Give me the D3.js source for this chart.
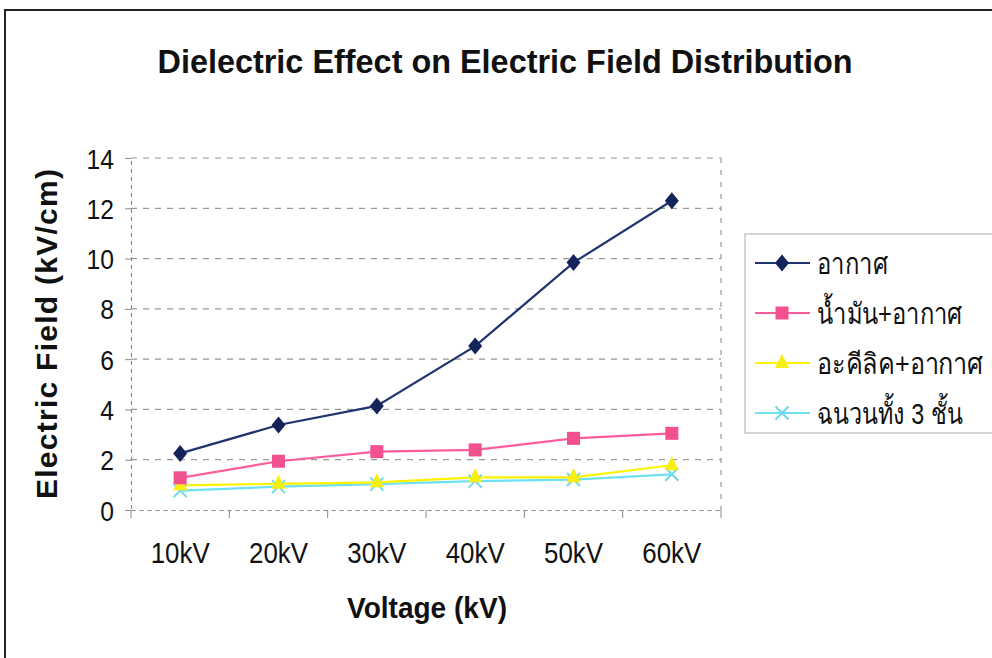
<!DOCTYPE html>
<html><head><meta charset="utf-8">
<script src="https://cdn.jsdelivr.net/npm/d3@7/dist/d3.min.js"></script>
<style>body{margin:0;background:#fff}svg{display:block}text{font-family:Arial,"Liberation Sans",sans-serif;fill:#111}</style>
</head><body><svg id="c" width="992" height="658"></svg>
<script>
const categories = ["10kV","20kV","30kV","40kV","50kV","60kV"];
const seriesNames = ["อากาศ","น้ำมัน+อากาศ","อะคีลิค+อากาศ","ฉนวนทั้ง 3 ชั้น"];
const airValues     = [2.25, 3.38, 4.14, 6.52, 9.84, 12.3];
const oilAirValues  = [1.28, 1.94, 2.32, 2.39, 2.85, 3.05];
const acrylicAirValues = [0.98, 1.04, 1.1, 1.3, 1.3, 1.78];
const threeLayerValues = [0.77, 0.93, 1.03, 1.15, 1.21, 1.42];
const yTicks = [0,2,4,6,8,10,12,14];

const svg = d3.select("#c");
const W = 992, H = 658;
const L = 131, R = 721, T = 158, B = 510;
const x = d3.scaleBand().domain(categories).range([L, R]);
const y = d3.scaleLinear().domain([0, 14]).range([B, T]);

function condense(sel, f) {
  sel.each(function(){ const w = this.getComputedTextLength(); d3.select(this).attr("textLength", w*f).attr("lengthAdjust","spacingAndGlyphs"); });
}

// outer frame
svg.append("path").attr("d", `M5,${H+5} L5,10 L${W+5},10`).attr("fill","none").attr("stroke","#222").attr("stroke-width",2);

// title
svg.append("text").attr("x", 505).attr("y", 73).attr("text-anchor","middle")
  .attr("font-size", 34).attr("font-weight","bold").attr("textLength",695).attr("lengthAdjust","spacingAndGlyphs")
  .text("Dielectric Effect on Electric Field Distribution");

// gridlines
const g = svg.append("g");
g.selectAll("line.grid").data(yTicks.filter(d=>d>0)).join("line")
  .attr("x1", L).attr("x2", R).attr("y1", d=>y(d)).attr("y2", d=>y(d))
  .attr("stroke","#9a9a8c").attr("stroke-width",1.2).attr("stroke-dasharray","6,6");
g.append("line").attr("x1",R).attr("x2",R).attr("y1",T).attr("y2",B)
  .attr("stroke","#9a9a8c").attr("stroke-width",1.2).attr("stroke-dasharray","5,7");

// y axis
const yAxis = d3.axisLeft(y).tickValues(yTicks).tickSize(6).tickPadding(11).tickFormat(d3.format("d"));
const ya = svg.append("g").attr("transform",`translate(${L},0)`).call(yAxis);
ya.select(".domain").attr("stroke","#8a8a80").attr("stroke-width",1.2).attr("stroke-dasharray","4,4");
ya.selectAll(".tick line").attr("stroke","#8a8a80");
ya.selectAll("text").attr("font-size",28).attr("fill","#111").attr("dy","0.36em").call(condense, 0.88);

// x axis
const xAxis = d3.axisBottom(x).tickSize(0).tickPadding(40);
const xa = svg.append("g").attr("transform",`translate(0,${B})`).call(xAxis);
xa.select(".domain").attr("stroke","#8a8a80").attr("stroke-width",1.2).attr("stroke-dasharray","4,4");
xa.selectAll(".tick text").attr("font-size",29).attr("fill","#111").attr("textLength",59).attr("lengthAdjust","spacingAndGlyphs").attr("dy","0.45em");
const bounds = categories.map(c=>x(c)).concat([R]);
xa.selectAll("line.bt").data(bounds).join("line").attr("class","bt")
  .attr("x1",d=>d).attr("x2",d=>d).attr("y1",0).attr("y2",8).attr("stroke","#8a8a80");

// axis titles
svg.append("text").attr("transform",`translate(57,${(T+B)/2}) rotate(-90)`).attr("text-anchor","middle")
  .attr("font-size",30).attr("font-weight","bold").attr("textLength",330).attr("lengthAdjust","spacing")
  .text("Electric Field (kV/cm)");
svg.append("text").attr("x",427).attr("y",618).attr("text-anchor","middle")
  .attr("font-size",30).attr("font-weight","bold").attr("textLength",160).attr("lengthAdjust","spacingAndGlyphs")
  .text("Voltage (kV)");

const series = [
  {name: seriesNames[0], values: airValues, line:"#22346e", fill:"#14245a", sym:"diamond"},
  {name: seriesNames[1], values: oilAirValues, line:"#ff5c9d", fill:"#f2508e", sym:"square"},
  {name: seriesNames[2], values: acrylicAirValues, line:"#fff200", fill:"#f8ee10", sym:"triangle"},
  {name: seriesNames[3], values: threeLayerValues, line:"#6fe0f2", fill:"#6fd8ea", sym:"x"}
];
const legendTextWidths = [70, 145, 166, 146];
const cx = c => x(c) + x.bandwidth()/2;
const line = d3.line().x((d,i)=>cx(categories[i])).y(d=>y(d));

function drawMarker(sel, s, px, py) {
  if (s.sym === "diamond") {
    sel.append("path").attr("d", `M${px},${py-8.5} L${px+7},${py} L${px},${py+8.5} L${px-7},${py} Z`).attr("fill", s.fill);
  } else if (s.sym === "square") {
    sel.append("rect").attr("x",px-6.5).attr("y",py-6.5).attr("width",13).attr("height",13).attr("fill",s.fill);
  } else if (s.sym === "triangle") {
    sel.append("path").attr("d", `M${px},${py-9} L${px+7},${py+5} L${px-7},${py+5} Z`).attr("fill", s.fill);
  } else {
    sel.append("path").attr("d", `M${px-6.5},${py-6.5} L${px+6.5},${py+6.5} M${px-6.5},${py+6.5} L${px+6.5},${py-6.5}`).attr("stroke", s.fill).attr("stroke-width",2).attr("fill","none");
  }
}

const plot = svg.append("g");
series.slice().reverse().forEach(s => {
  plot.append("path").datum(s.values).attr("d", line).attr("fill","none").attr("stroke", s.line).attr("stroke-width", 2.2);
});
series.slice().reverse().forEach(s => {
  const mg = plot.append("g");
  s.values.forEach((v,i) => drawMarker(mg, s, cx(categories[i]), y(v)));
});

// legend
const lg = svg.append("g");
lg.append("rect").attr("x",745).attr("y",234).attr("width",260).attr("height",199)
  .attr("fill","#fff").attr("stroke","#bbb").attr("stroke-width",1.2);
series.forEach((s,i) => {
  const ly = 263 + i*50;
  lg.append("line").attr("x1",755).attr("x2",810).attr("y1",ly).attr("y2",ly).attr("stroke",s.line).attr("stroke-width",2.2);
  drawMarker(lg, s, 782, ly);
  const t = lg.append("text").attr("x",0).attr("y",0).attr("dy","0.38em").attr("font-size",29).text(s.name);
  const w = t.node().getComputedTextLength();
  const f = legendTextWidths[i] / w;
  t.attr("transform", `translate(817,${ly}) scale(${f},1)`);
});
</script></body></html>
